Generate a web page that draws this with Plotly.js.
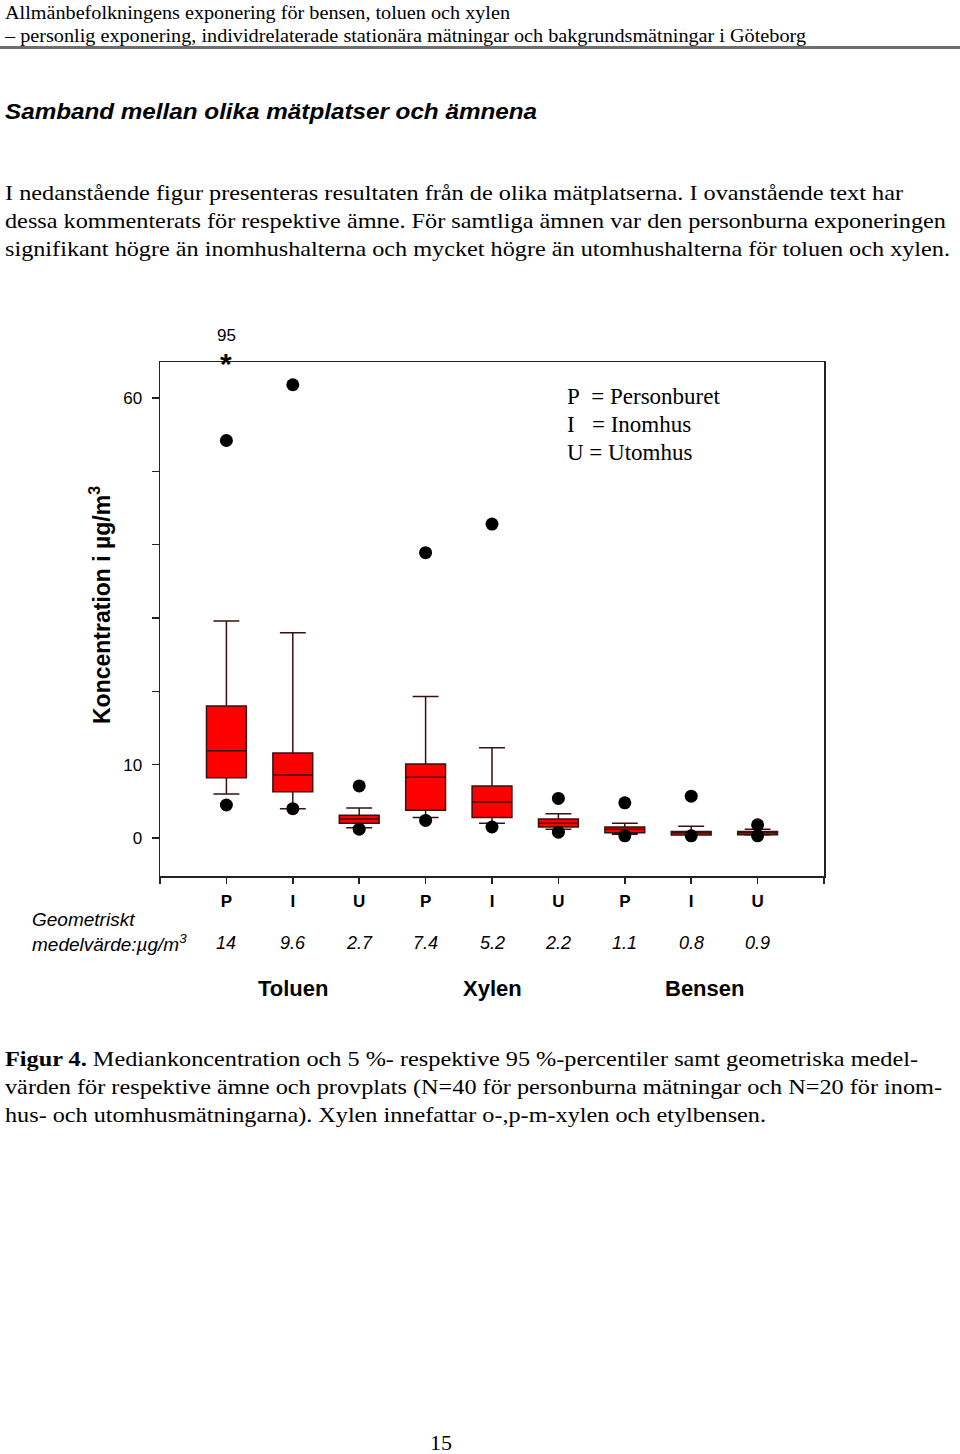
<!DOCTYPE html>
<html><head><meta charset="utf-8">
<script src="https://cdn.plot.ly/plotly-3.0.1.min.js"></script>
<style>
html,body{margin:0;padding:0;background:#fff;}
#page{position:relative;width:960px;height:1454px;overflow:hidden;background:#fff;}
#chart{position:absolute;left:0;top:0;width:960px;height:1454px;}
.t{position:absolute;white-space:nowrap;transform-origin:0 50%;color:#000;z-index:2;line-height:1;}
.serif{font-family:"Liberation Serif","Times New Roman",serif;}
.sans{font-family:"Liberation Sans",Arial,sans-serif;}
#rule{position:absolute;left:0;top:46px;width:960px;height:2.5px;background:#6e6e6e;z-index:2;}
</style></head>
<body><div id="page"><div id="chart"></div><div id="rule"></div></div>
<script>
// ---------- data ----------
var categories = ['P','I','U','P','I','U','P','I','U'];
var substances = ['Toluen','Xylen','Bensen'];
var p90     = [29.6, 28.0, 4.1, 19.3, 12.3, 3.3, 2.0, 1.6, 1.2];
var q3      = [18.0, 11.6, 3.1, 10.1, 7.1, 2.6, 1.5, 0.9, 0.9];
var medians = [11.9, 8.6, 2.6, 8.3, 4.9, 2.0, 1.2, 0.7, 0.7];
var q1      = [8.2, 6.3, 2.0, 3.8, 2.8, 1.5, 0.7, 0.4, 0.45];
var p10     = [6.0, 4.0, 1.4, 2.8, 2.0, 1.2, 0.5, 0.4, 0.4];
var p95     = [54.2, 61.8, 7.1, 38.9, 42.8, 5.4, 4.8, 5.7, 1.8];
var p5      = [4.5, 4.0, 1.2, 2.4, 1.5, 0.8, 0.3, 0.3, 0.3];
var offScale = [95, null, null, null, null, null, null, null, null];
var geoMeans = ['14','9.6','2.7','7.4','5.2','2.2','1.1','0.8','0.9'];
var yLabelVals = [0, 10, 60];
var yMinorVals = [20, 30, 40, 50];
var legendLines = ['P\u00a0\u00a0= Personburet', 'I\u00a0\u00a0\u00a0= Inomhus', 'U = Utomhus'];

// ---------- page text ----------
var lines = [
  {t:'Allmänbefolkningens exponering för bensen, toluen och xylen', c:'serif', fs:19, x:5, cy:12, w:505},
  {t:'– personlig exponering, individrelaterade stationära mätningar och bakgrundsmätningar i Göteborg', c:'serif', fs:19, x:5, cy:35, w:801},
  {t:'Samband mellan olika mätplatser och ämnena', c:'sans', fs:22, x:5, cy:112, w:532, b:1, i:1},
  {t:'I nedanstående figur presenteras resultaten från de olika mätplatserna. I ovanstående text har', c:'serif', fs:21, x:5, cy:193, w:898},
  {t:'dessa kommenterats för respektive ämne. För samtliga ämnen var den personburna exponeringen', c:'serif', fs:21, x:5, cy:221, w:941},
  {t:'signifikant högre än inomhushalterna och mycket högre än utomhushalterna för toluen och xylen.', c:'serif', fs:21, x:5, cy:249, w:945},
  {h:'<b>Figur 4.</b> Mediankoncentration och 5 %- respektive 95 %-percentiler samt geometriska medel-', c:'serif', fs:21, x:5, cy:1059, w:913},
  {t:'värden för respektive ämne och provplats (N=40 för personburna mätningar och N=20 för inom-', c:'serif', fs:21, x:5, cy:1087, w:937},
  {t:'hus- och utomhusmätningarna). Xylen innefattar o-,p-m-xylen och etylbensen.', c:'serif', fs:21, x:5, cy:1115, w:761},
  {t:'15', c:'serif', fs:21, x:430, cy:1443, w:22}
];
var page = document.getElementById('page');
lines.forEach(function(L){
  var d = document.createElement('div');
  d.className = 't ' + L.c;
  d.style.fontSize = L.fs + 'px';
  if (L.b) d.style.fontWeight = 'bold';
  if (L.i) d.style.fontStyle = 'italic';
  if (L.h) d.innerHTML = L.h; else d.textContent = L.t;
  d.style.left = L.x + 'px';
  d.style.top = (L.cy - L.fs/2) + 'px';
  page.appendChild(d);
  var nw = d.getBoundingClientRect().width;
  if (nw > 0) d.style.transform = 'scaleX(' + (L.w / nw) + ')';
});

// ---------- chart ----------
var xi = categories.map(function(c, i){ return i; });
var sans = '"Liberation Sans", Arial, sans-serif';
var serif = '"Liberation Serif", "Times New Roman", serif';

var traces = [
  {type:'box', x:xi, q1:q1, median:medians, q3:q3, lowerfence:p10, upperfence:p90,
   width:0.6, whiskerwidth:0.65, boxpoints:false, fillcolor:'#ff0000',
   line:{color:'#3a1010', width:1.5}, hoverinfo:'skip'},
  {type:'scatter', mode:'markers', x:xi, y:p95, marker:{color:'#000', size:13}, cliponaxis:false, hoverinfo:'skip'},
  {type:'scatter', mode:'markers', x:xi, y:p5, marker:{color:'#000', size:13}, cliponaxis:false, hoverinfo:'skip'}
];

var ann = [];
geoMeans.forEach(function(g, i){
  ann.push({x:i, xref:'x', y:0, yref:'paper', yshift:-67, yanchor:'middle', text:g, showarrow:false,
            font:{family:sans, size:18, style:'italic', color:'#000'}});
});
var groupX = [1, 4, 7.2];
substances.forEach(function(s, k){
  ann.push({x:groupX[k], xref:'x', y:0, yref:'paper', yshift:-112, yanchor:'middle', text:s, showarrow:false,
            font:{family:sans, size:22, weight:'bold', color:'#000'}});
});
ann.push({x:-0.1958, xref:'paper', xanchor:'left', y:0, yref:'paper', yshift:-43, yanchor:'middle',
          text:'Geometriskt', showarrow:false, font:{family:sans, size:19, style:'italic', color:'#000'}});
ann.push({x:-0.1958, xref:'paper', xanchor:'left', y:0, yref:'paper', yshift:-67, yanchor:'middle',
          text:'medelvärde:µg/m<sup>3</sup>', showarrow:false, font:{family:sans, size:19, style:'italic', color:'#000'}});
legendLines.forEach(function(s, k){
  ann.push({x:0.6099, xref:'paper', xanchor:'left', y:1, yref:'paper', yanchor:'middle', yshift:-(34 + 28*k),
            text:s, showarrow:false, font:{family:serif, size:23, color:'#000'}});
});
ann.push({x:0, xref:'paper', xanchor:'center', xshift:-60, y:0, yref:'paper', yanchor:'middle', yshift:271, textangle:-90,
          text:'Koncentration i µg/m<sup>3</sup>', showarrow:false, font:{family:sans, size:23, weight:'bold', color:'#000'}});
offScale.forEach(function(v, i){
  if (v === null) return;
  ann.push({x:i, xref:'x', y:1, yref:'paper', yanchor:'middle', yshift:27, text:String(v), showarrow:false,
            font:{family:sans, size:17, color:'#000'}});
  ann.push({x:i, xref:'x', y:1, yref:'paper', yanchor:'top', yshift:17, text:'*', showarrow:false,
            font:{family:sans, size:30, weight:'bold', color:'#000'}});
});

var layout = {
  width:960, height:1454,
  margin:{l:160, r:136, t:362, b:578, pad:0},
  paper_bgcolor:'#fff', plot_bgcolor:'#fff',
  showlegend:false,
  xaxis:{range:[-1,9], tickmode:'array', tickvals:xi, ticktext:categories, ticks:'outside', ticklen:6, tickwidth:1.5,
         tickcolor:'#222', showline:true, mirror:true, linecolor:'#222', linewidth:1.5, zeroline:false, showgrid:false,
         minor:{tickmode:'array', tickvals:[-1, 9], ticks:'outside', ticklen:6, tickwidth:1.5, tickcolor:'#222', showgrid:false},
         ticklabelstandoff:3, tickfont:{family:sans, size:17, weight:'bold', color:'#000'}},
  yaxis:{range:[-5.18,64.9], tickmode:'array', tickvals:yLabelVals, ticks:'outside', ticklen:7, tickwidth:1.5,
         tickcolor:'#222', showline:true, mirror:true, linecolor:'#222', linewidth:1.5, zeroline:false, showgrid:false,
         minor:{tickmode:'array', tickvals:yMinorVals, ticks:'outside', ticklen:7, tickwidth:1.5, tickcolor:'#222', showgrid:false},
         ticklabelstandoff:6, tickfont:{family:sans, size:17, color:'#000'}},
  annotations:ann
};
Plotly.newPlot('chart', traces, layout, {staticPlot:true, displayModeBar:false});
</script>
</body></html>
